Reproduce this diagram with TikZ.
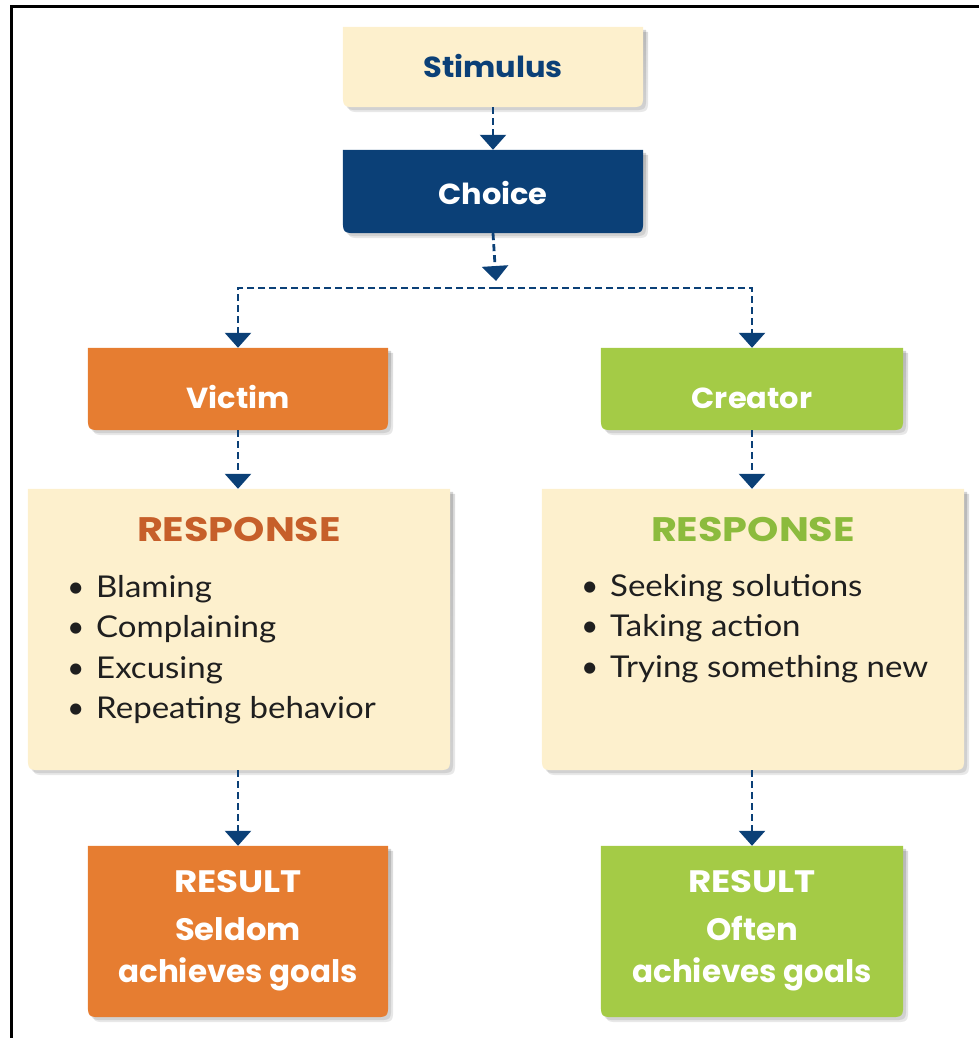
\documentclass[tikz,border=0pt]{standalone}
\usepackage{fontspec}
\setmainfont{Lato}
\newfontfamily\headfont{Poppins}
\usetikzlibrary{arrows.meta,backgrounds}
\definecolor{navy}{HTML}{0B4077}
\definecolor{cream}{HTML}{FDF0CD}
\definecolor{orng}{HTML}{E67D31}
\definecolor{lime}{HTML}{A4CB46}
\definecolor{orngtxt}{HTML}{C65F2A}
\definecolor{limetxt}{HTML}{8CBB3D}
\definecolor{shade}{HTML}{6A7A99}
% box with square top and rounded bottom, #2 = shift
\newcommand{\halfround}[2]{%
  ([shift={#2}]#1.north west) -- ([shift={#2}]#1.north east)
  -- ([shift={#2},yshift=16pt]#1.south east) .. controls ([shift={#2}]#1.south east) .. ([shift={#2},xshift=-16pt]#1.south east)
  -- ([shift={#2},xshift=16pt]#1.south west) .. controls ([shift={#2}]#1.south west) .. ([shift={#2},yshift=16pt]#1.south west)
  -- cycle}
\newcommand{\hx}[2]{\scalebox{#1}[1]{#2}}
\newcommand{\itm}[1]{\makebox[29pt][l]{\textbullet}\hx{1.1}{#1}}
\begin{document}
\begin{tikzpicture}
[
 x=1pt, y=-1pt,
 inner sep=0pt,
 SMALLBOX/.style={minimum width=300pt, minimum height=82pt},
 RESPBOX/.style={minimum width=422pt, minimum height=281pt},
 RESBOX/.style={minimum width=300pt, minimum height=171pt},
 LABEL/.style={font=\headfont\bfseries\fontsize{29}{34}\selectfont, text=white, anchor=base},
 TITLE/.style={font=\headfont\bfseries\fontsize{34}{40}\selectfont, anchor=base},
 ITEM/.style={font=\fontsize{30}{36}\selectfont, text=black!88, anchor=base west},
 OUTCOME/.style={font=\headfont\bfseries\fontsize{31}{36}\selectfont, text=white, anchor=base},
 FLOW/.style={draw=navy, line width=2.8pt, dash pattern=on 7pt off 4pt, -{Triangle[width=26pt,length=15pt]}},
 ]
%
\useasboundingbox (0,0) rectangle (979,1038);
\draw [line width=3pt] (11,1038) -- (11,7) -- (979,7);
%
\node [SMALLBOX, minimum height=80pt]  (STIM)  at (493,67)    {};
\node [SMALLBOX, minimum height=83pt]  (CHOI)  at (493,191.5) {};
\node [SMALLBOX]                       (VICT)  at (238,389)   {};
\node [SMALLBOX, minimum width=302pt]  (CREA)  at (752,389)   {};
\node [RESPBOX]                        (RESV)  at (239,629.5) {};
\node [RESPBOX]                        (RESC)  at (753,629.5) {};
\node [RESBOX]                         (RSLV)  at (238,931.5) {};
\node [RESBOX, minimum width=302pt]    (RSLC)  at (752,931.5) {};
%
\begin{scope}[on background layer]
\foreach \n/\c in {STIM/cream, CHOI/navy, VICT/orng, CREA/lime, RESV/cream, RESC/cream, RSLV/orng, RSLC/lime}
   {
     \fill [shade, opacity=0.10] \halfround{\n}{(5pt,-5pt)};
     \fill [shade, opacity=0.12] \halfround{\n}{(3pt,-3pt)};
     \fill [\c] \halfround{\n}{(0pt,0pt)};
   }
\end{scope}
%
\node [LABEL, text=navy]  (STIMt)  at (493,78)  {\hx{1.05}{Stimulus}};
\node [LABEL]             (CHOIt)  at (493,204) {\hx{1.05}{Choice}};
\node [LABEL]             (VICTt)  at (238,408) {\hx{1.05}{Victim}};
\node [LABEL]             (CREAt)  at (752,408) {\hx{1.05}{Creator}};
%
\node [TITLE, text=orngtxt]  (RESVt)  at (239,541) {\hx{1.17}{RESPONSE}};
\node [TITLE, text=limetxt]  (RESCt)  at (753,541) {\hx{1.17}{RESPONSE}};
%
\foreach \t [count=\i from 0] in {Blaming, Complaining, Excusing, Repeating behavior}
   { \node [ITEM] (LV\i) at (67,{597+40.5*\i}) {\itm{\t}}; }
\foreach \t [count=\i from 0] in {Seeking solutions, Taking action, Trying something new}
   { \node [ITEM] (LC\i) at (581,{596+40.5*\i}) {\itm{\t}}; }
%
\node [OUTCOME]  (RSLVa)  at (238,892) {\hx{1.15}{RESULT}};
\node [OUTCOME]  (RSLVb)  at (238,940) {\hx{1.04}{Seldom}};
\node [OUTCOME]  (RSLVc)  at (238,982) {achieves goals};
\node [OUTCOME]  (RSLCa)  at (752,892) {\hx{1.15}{RESULT}};
\node [OUTCOME]  (RSLCb)  at (752,940) {\hx{1.04}{Often}};
\node [OUTCOME]  (RSLCc)  at (752,982) {achieves goals};
%
\coordinate (SPLIT) at (496,288);
\draw [FLOW]  (STIM.south) -- (CHOI.north);
\draw [FLOW]  (CHOI.south) -- ([yshift=7pt]SPLIT);
\draw [FLOW]  (SPLIT) -| (VICT.north);
\draw [FLOW]  (SPLIT) -| (CREA.north);
\draw [FLOW]  (VICT.south) -- (VICT.south |- RESV.north);
\draw [FLOW]  (CREA.south) -- (CREA.south |- RESC.north);
\draw [FLOW]  (RESV.south -| RSLV.north) -- (RSLV.north);
\draw [FLOW]  (RESC.south -| RSLC.north) -- (RSLC.north);
%
\end{tikzpicture}
\end{document}
